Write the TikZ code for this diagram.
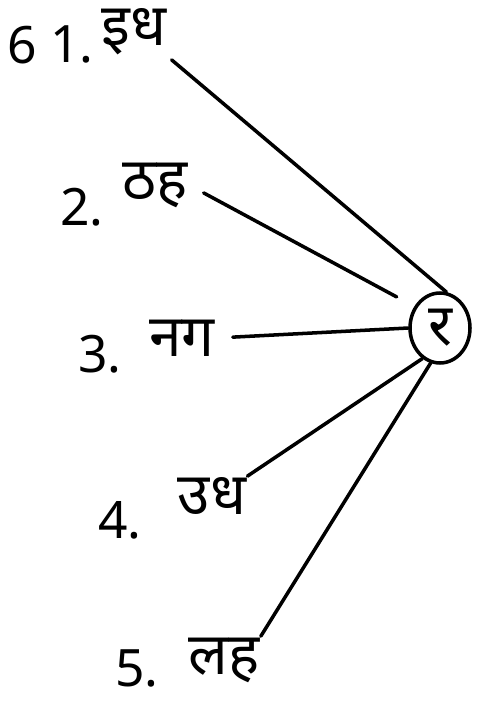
\documentclass[tikz,border=0pt]{standalone}
\usepackage{fontspec}
\newfontfamily\devfont[Script=Devanagari]{Noto Sans}
\usetikzlibrary{shapes.geometric}

\begin{document}
\begin{tikzpicture}[
  x=0.03cm, y=-0.03cm,
  line cap=round, line join=round,
  word/.style={font=\devfont\fontsize{50}{60}\selectfont, inner sep=1pt},
  num/.style={font=\devfont\fontsize{44}{52}\selectfont, inner sep=1pt},
  link/.style={line width=3pt}
]
\useasboundingbox (0,0) rectangle (476,704);

% 题号
\node[num] (qno) at (22,45) {6};

% 五个词
\node[num]  (num1)  at (72,44)   {1.};
\node[word] (word1) at (134,32)  {इध};
\node[num]  (num2)  at (82,207)  {2.};
\node[word] (word2) at (155,185) {ठह};
\node[num]  (num3)  at (100,354) {3.};
\node[word] (word3) at (182,338) {नग};
\node[num]  (num4)  at (120,520) {4.};
\node[word] (word4) at (212,496) {उध};
\node[num]  (num5)  at (137,668) {5.};
\node[word] (word5) at (224,660) {लह};

% 中心字母
\node[word, ellipse, draw, line width=3pt,
  minimum width=60*0.03cm, minimum height=70*0.03cm] (ra) at (440,328) {र};

% 连线
\draw[link, shorten <=0.15cm] (word1.south east) -- (ra.80);
\draw[link, shorten <=0.5cm, shorten >=0.6cm] (word2.east) -- (ra.140);
\draw[link, shorten <=0.5cm] (word3.east) -- (ra.west);
\draw[link] (word4.north east) -- (ra.240);
\draw[link] (word5.north east) -- (ra.255);
\end{tikzpicture}
\end{document}
